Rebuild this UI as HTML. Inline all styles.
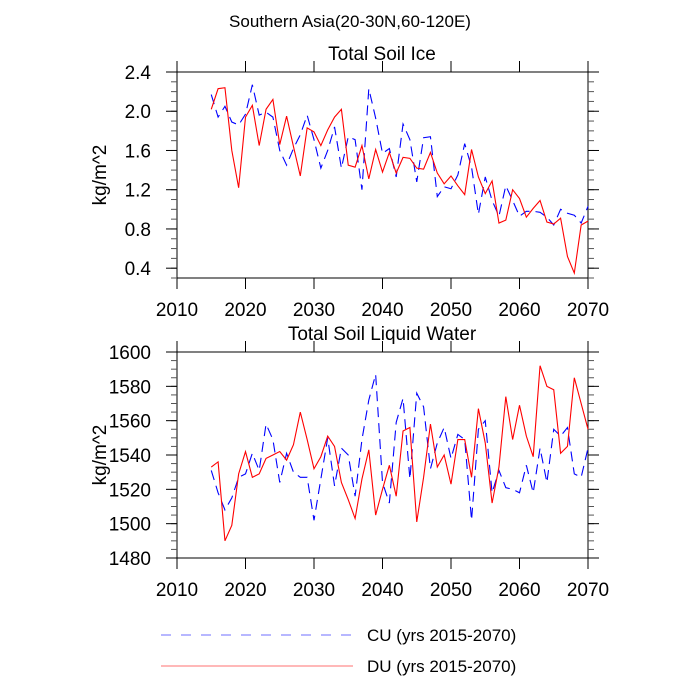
<!DOCTYPE html>
<html><head><meta charset="utf-8"><style>
body{margin:0;background:#fff;}
svg{display:block;font-family:"Liberation Sans",sans-serif;}
</style></head><body>
<svg id="c" width="700" height="700" xmlns="http://www.w3.org/2000/svg">
<text x="350" y="27" font-size="17" text-anchor="middle">Southern Asia(20-30N,60-120E)</text>
<line x1="161" y1="635" x2="353" y2="635" stroke="#6f6fff" stroke-width="1" stroke-dasharray="10,10"/>
<text x="367" y="641" font-size="17">CU (yrs 2015-2070)</text>
<line x1="161" y1="666" x2="353" y2="666" stroke="#ff7070" stroke-width="1"/>
<text x="367" y="672" font-size="17">DU (yrs 2015-2070)</text>
</svg>
<script>
const years = [];
for (let y = 2015; y <= 2070; y++) years.push(y);
const xTicks = [2010, 2020, 2030, 2040, 2050, 2060, 2070];
const iceTicks = ["0.4", "0.8", "1.2", "1.6", "2.0", "2.4"];
const liqTicks = ["1480", "1500", "1520", "1540", "1560", "1580", "1600"];
const iceDU = [2.02,2.23,2.24,1.60,1.22,1.94,2.06,1.65,2.02,2.12,1.66,1.95,1.64,1.34,1.83,1.79,1.65,1.81,1.94,2.02,1.45,1.43,1.65,1.31,1.61,1.38,1.58,1.37,1.53,1.52,1.42,1.41,1.58,1.37,1.26,1.34,1.24,1.15,1.61,1.33,1.16,1.29,0.86,0.89,1.20,1.11,0.92,1.01,1.09,0.87,0.85,0.91,0.52,0.35,0.84,0.88];
const iceCU = [2.17,1.94,2.05,1.89,1.86,1.97,2.27,1.96,1.99,1.94,1.60,1.45,1.62,1.76,1.96,1.71,1.42,1.60,1.84,1.42,1.74,1.71,1.20,2.23,1.93,1.57,1.62,1.33,1.87,1.71,1.28,1.73,1.74,1.13,1.23,1.21,1.35,1.67,1.43,0.95,1.33,1.09,0.93,1.24,1.09,0.93,0.98,0.98,0.97,0.92,0.84,1.00,0.96,0.94,0.86,1.03];
const liqDU = [1533,1536,1490,1499,1529,1542,1527,1529,1538,1540,1542,1537,1546,1565,1549,1532,1539,1551,1545,1524,1514,1503,1526,1543,1505,1520,1534,1516,1554,1556,1501,1527,1558,1533,1540,1523,1549,1549,1527,1567,1547,1512,1533,1574,1549,1569,1551,1539,1592,1580,1578,1541,1545,1585,1570,1555];
const liqCU = [1531,1518,1508,1515,1527,1529,1541,1531,1558,1549,1524,1541,1530,1527,1527,1502,1526,1550,1522,1544,1540,1516,1549,1572,1587,1524,1512,1559,1573,1526,1576,1568,1532,1547,1556,1538,1552,1549,1502,1555,1560,1518,1531,1521,1520,1518,1534,1518,1544,1524,1555,1551,1556,1529,1527,1544];

const NS = "http://www.w3.org/2000/svg";
const svg = document.getElementById("c");
function mk(tag, attrs, parent) {
  const e = document.createElementNS(NS, tag);
  for (const k in attrs) e.setAttribute(k, attrs[k]);
  (parent || svg).appendChild(e);
  return e;
}
function panel(opt) {
  const L = 177, R = 588, T = opt.top, B = opt.bottom;
  const g = mk("g", {});
  
  
  const xs = v => L + (v - 2010) / 60 * (R - L);
  const ys = v => B - (v - opt.ymin) / (opt.ymax - opt.ymin) * (B - T);
  const frame = mk("rect", {x: L, y: T, width: R - L, height: B - T, fill: "none", stroke: "#000", "stroke-width": 1}, g);
  
  
  xTicks.forEach(t => {
    const x = xs(t);
    mk("line", {x1: x, y1: B, x2: x, y2: B + 11, stroke: "#000"}, g);
    mk("line", {x1: x, y1: T, x2: x, y2: T - 11, stroke: "#000"}, g);
    const tx = mk("text", {x: x, y: B + 38, "font-size": 19, "text-anchor": "middle"}, g);
    tx.textContent = t;
    
    
  });
  for (let v = opt.ymin; v <= opt.ymax + 1e-9; v += opt.minor) {
    const y = ys(v);
    mk("line", {x1: L, y1: y, x2: L - 6, y2: y, stroke: "#555"}, g);
    mk("line", {x1: R, y1: y, x2: R + 6, y2: y, stroke: "#555"}, g);
  }
  opt.ticks.forEach(t => {
    const y = ys(parseFloat(t));
    mk("line", {x1: L, y1: y, x2: L - 11, y2: y, stroke: "#000"}, g);
    mk("line", {x1: R, y1: y, x2: R + 11, y2: y, stroke: "#000"}, g);
    const tx = mk("text", {x: 151, y: y + 7, "font-size": 19, "text-anchor": "end"}, g);
    tx.textContent = t;
    
    
  });
  const yt = mk("text", {x: 0, y: 0, "font-size": 19, "text-anchor": "middle", transform: `translate(106,${(T + B) / 2}) rotate(-90)`}, g);
  yt.textContent = "kg/m^2";
  
  
  const ti = mk("text", {x: 382, y: T - 12, "font-size": 19, "text-anchor": "middle"}, g);
  ti.textContent = opt.title;
  
  
  const cu = mk("polyline", {points: opt.cu.map((v, i) => xs(years[i]) + "," + ys(v)).join(" "), fill: "none", stroke: "#0000ff", "stroke-width": 1.1, "stroke-dasharray": "10,6"}, g);
  
  
  const du = mk("polyline", {points: opt.du.map((v, i) => xs(years[i]) + "," + ys(v)).join(" "), fill: "none", stroke: "#ff0000", "stroke-width": 1.1}, g);
  
  
}
panel({name: "soil-ice-panel", top: 72, bottom: 278, ymin: 0.3, ymax: 2.4, minor: 0.1, ticks: iceTicks, title: "Total Soil Ice", cu: iceCU, du: iceDU});
panel({name: "soil-liquid-panel", top: 352, bottom: 558, ymin: 1480, ymax: 1600, minor: 5, ticks: liqTicks, title: "Total Soil Liquid Water", cu: liqCU, du: liqDU});
</script>
</body></html>
